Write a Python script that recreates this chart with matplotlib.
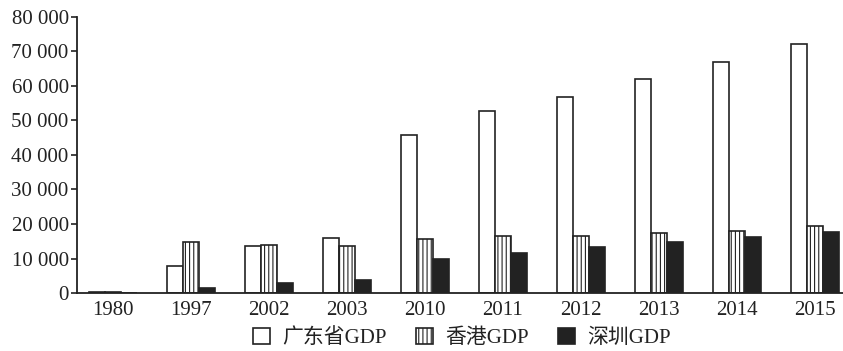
import numpy as np
import matplotlib.pyplot as plt
from matplotlib.ticker import FuncFormatter

plt.rcParams['font.family'] = ['Liberation Serif', 'Noto Sans CJK SC']
plt.rcParams['hatch.linewidth'] = 0.8

years = ['1980', '1997', '2002', '2003', '2010', '2011', '2012', '2013', '2014', '2015']
guangdong = [250, 7800, 13600, 16000, 45900, 52800, 56700, 62000, 67000, 72200]
hongkong = [300, 14800, 13800, 13600, 15800, 16600, 16600, 17300, 18000, 19300]
shenzhen = [30, 1500, 3000, 3900, 9900, 11700, 13300, 14800, 16100, 17600]
series_names = ['广东省GDP', '香港GDP', '深圳GDP']

ink = '#222222'
fig = plt.figure(figsize=(8.43, 3.51), dpi=100)
ax = fig.add_axes([0.0913, 0.165, 0.9087, 0.787])

x = np.arange(len(years))
w = 0.205
ax.bar(x - w, guangdong, w, facecolor='white', edgecolor=ink, linewidth=1.2, label=series_names[0])
ax.bar(x, hongkong, w, facecolor='white', edgecolor=ink, linewidth=1.2, hatch='||||', label=series_names[1])
ax.bar(x + w, shenzhen, w, facecolor=ink, edgecolor=ink, linewidth=1.2, label=series_names[2])

ax.set_xlim(-0.46, 9.36)
ax.set_ylim(0, 80000)
ax.set_yticks(np.arange(0, 80001, 10000))
ax.yaxis.set_major_formatter(FuncFormatter(lambda v, p: f'{int(v):,}'.replace(',', ' ')))
ax.set_xticks(x)
ax.set_xticklabels(years)

for s in ['top', 'right']:
    ax.spines[s].set_visible(False)
for s in ['left', 'bottom']:
    ax.spines[s].set_color(ink)
    ax.spines[s].set_linewidth(1.3)
ax.tick_params(axis='y', direction='out', length=4, width=1.2, color=ink, labelsize=15, labelcolor=ink, pad=2)
ax.tick_params(axis='x', length=0, labelsize=15, labelcolor=ink, pad=6)

fig.legend(loc='center', bbox_to_anchor=(0.548, 0.036), ncol=3, frameon=False,
           fontsize=15, handlelength=0.8, handleheight=0.8, handletextpad=0.6,
           columnspacing=1.4, labelcolor=ink, borderpad=0)

fig.savefig('out.png', dpi=100)
